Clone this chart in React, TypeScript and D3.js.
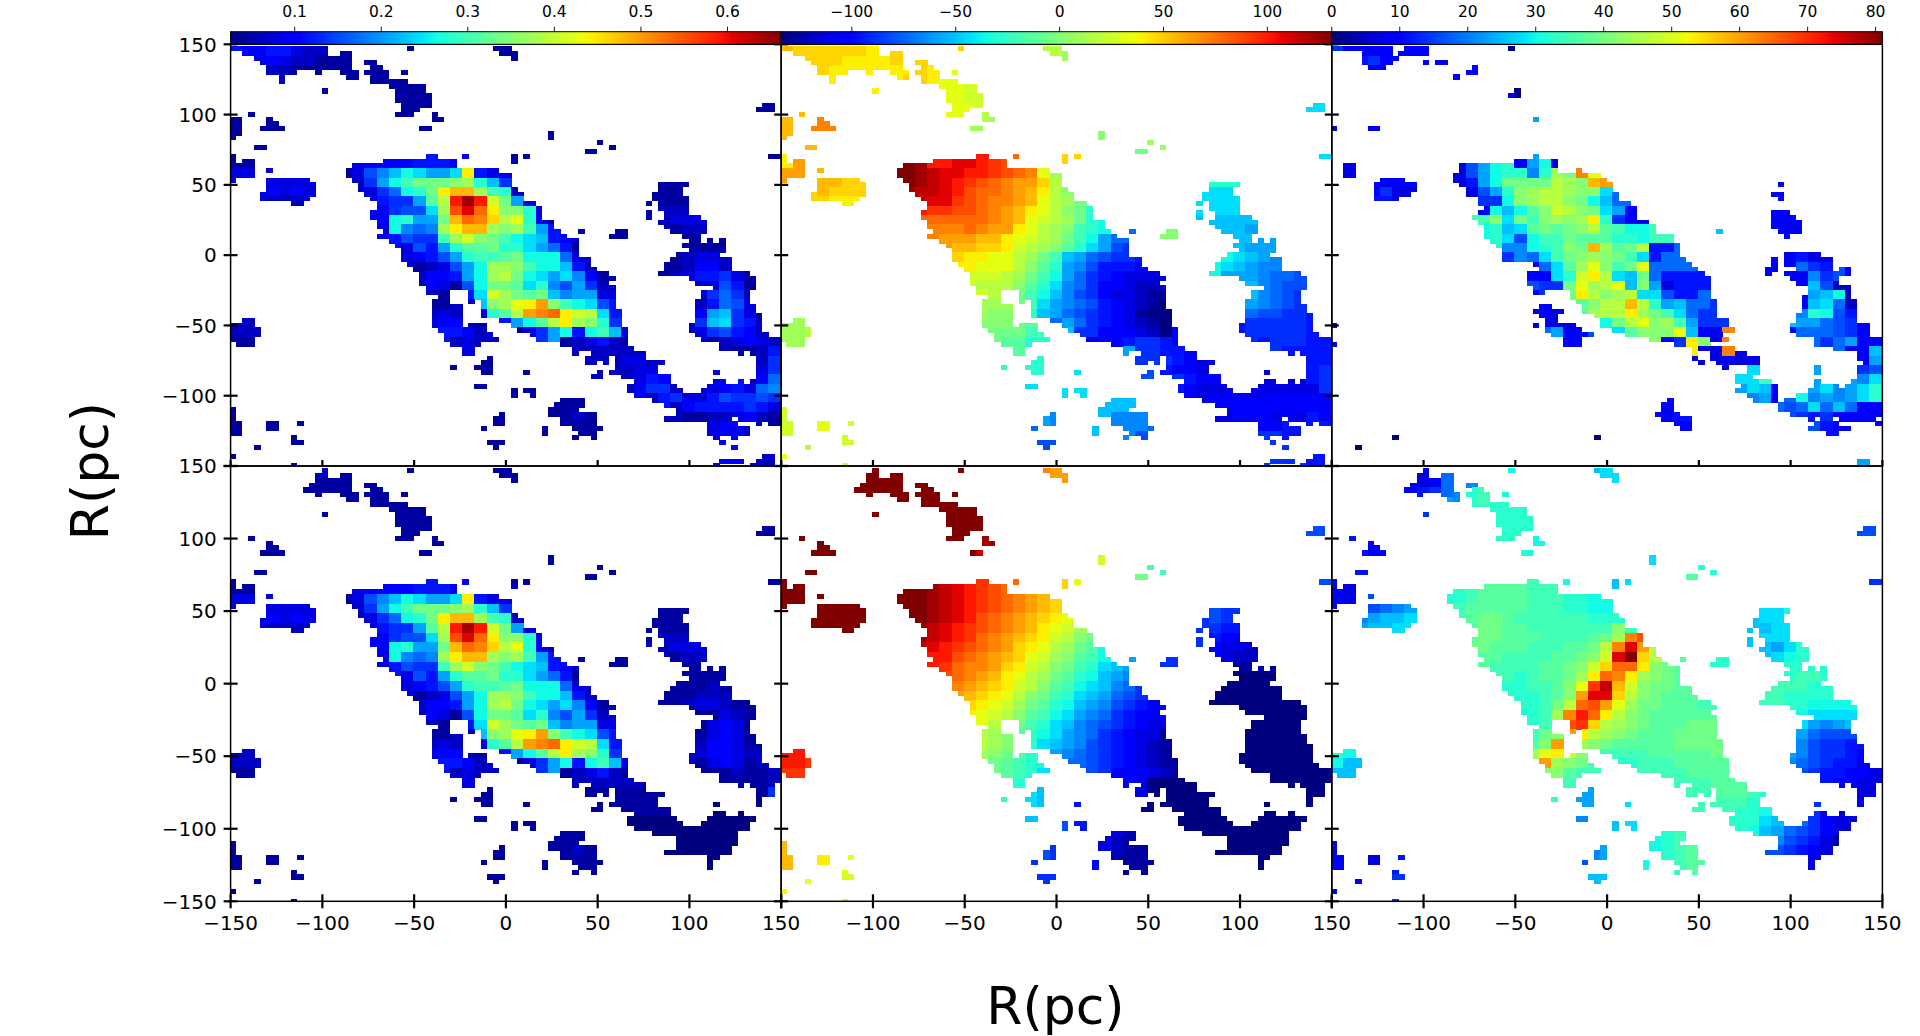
import React from 'react';
import * as d3 from 'd3';

const xTicks = [-150, -100, -50, 0, 50, 100, 150];
const yTicksTop = [150, 100, 50, 0, -50, -100, -150];
const intensityTicks = [0.1, 0.2, 0.3, 0.4, 0.5, 0.6];
const velocityTicks = [-100, -50, 0, 50, 100];
const dispersionTicks = [0, 10, 20, 30, 40, 50, 60, 70, 80];
const intensityDomain = [0.026, 0.662];
const velocityDomain = [-134, 131];
const dispersionDomain = [0, 81];

// Occupied cells per image row: column ranges
const maskObserved = [
"0-15 29 43-45","2-15 18-19 44-46","4-19 46","5-19 22-23","6-19 23-24","6-10 14 18-20 22-25 28","8 19-20 23-25","8 23-28","26-31","15 27-31",
"27-32","27-32","28-32 87-88","28-30 86-88","3 27-29 33","0-1 6 33-34","0-1 6-7","0-1 5-8 31-32","0-1 52","0 52",
"60","4-5 62","58-59","0 32-33 38 46 48 88-89","0 2-3 25-36 46","0-3 20-36","0-3 6 19-43","0-3 19-45","0 6-12 20-45","6-13 21-45 70-74",
"6-13 21-46 70-73","5-13 22-47 69-73","5-12 23-47 69-74","10-11 24-49 68 70-74","24-50 70-74","23-50 68 71-74","23-50 68 71-76","24-52 70-77","24-52 71-77","25-53 57 63-64 72-77",
"24-54 62-64 74-76","26-56 75-76 78 80","27-56 74-80","28-56 75 76-80","28-56 73-79","28-58 72-81","29-58 71-81","30-59 71-81","31-61 70-84","31-62 75-85",
"31-61 76-85","32-62 79-85","32-35 39-62 77-84","34-35 39-62 77-84","33-35 39 41-62 76-84","33-37 41-62 76-85","33-37 41-63 76-85","33-37 41-63 76-86","2-3 33-37 44-63 76-86","0-3 33-37 39-41 46-63 75-86",
"0-4 34-41 47 48-64 75-86","0-4 35-42 49-64 76-87","0-3 35-43 50-64 77-89","1-3 36-40 54-64 80-89","38-39 56 57-65 80-89","38-39 56 59-67 83 85-89","42 58-61 63-67 86-89","41-42 58-59 61 63-70 86-89","36 40-42 63-69 86-89","41-42 48 60 62-69 79 86-89",
"59-60 64-71 86-89","66-71 79-80 83 85-89","40-41 65-72 78-89","46 48-49 65-73 77-89","46 49 66-89","54-57 69-89","53-57 71-89","0 52-56 73-89","0 44 52-59 73-89","0 43-44 54-59 71-81 83-89",
"0-1 6-7 11 43-44 54-59 78-82 86 88-89","0-1 6-7 41 51 56-60 78-84","0-1 51 57-59 78-84","10 56 59 79 82","10-11 42-44 80","4 43 82","","0 87-88","80-83 86-88","10 79 85-88"
];
const maskDispersionObserved = [
"0-9 12-15 29","5-9 11-15","5-10","5-9 15 17-18","6-8 23","22-23","20","","","30",
"29-30","","","","","33","","0 6-7","","",
"","","","33","30-36","2-3 21-36","2-3 21-36 40","2-3 20-43","8-11 20-44","7-13 21-45 73",
"7-13 22-45","7-12 22-46 72-73","7-8 9-10 24-46 73","24-48","25-49","24-49 72-74","23-49 72-75","24-51 72-76","25-52 72-76","25-52 63 73-76",
"25-55 74","26-55","27-56","28-56","28-56 74-79","28-57 72 74-81","33-58 72 74-81","34-59 71-72 76-81 83-84","32-60 71 74-82 83-84","32-61 75-82",
"32-61 76-82","33-61 78-84","33-34 39-61 78-84","39-61 77-84","40-62 77-85","34-35 41-62 77-85","33-37 41-62 77-85","34-36 43-62 76-85","35-36 44-64 76-85","0 33 35-39 44-64 75-87",
"35-40 46-65 75-87","36-42 48-63 76-87","38-40 52-64 79-89","0 38-40 56-61 79-89","59-65 82-89","59 62-67 86-89","59 62-69 86-89","60 63-69 87-89","64 68-69 79 86-89","68-69 79 86-89",
"66-68 86-89","66-71 79 85-89","67-72 79-82 84-89","66-72 78-89","68-72 76-89","55 69-72 74-89","54-55 73-89","54-55 73-89","53-56 75-89","54-58 78 80-81 83-88",
"56-58 79-82 89","57-58 78-84","81-82","10 43","","4","","","86-87","86-87"
];
// Cells the lower row's fit leaves out
const lowerCuts: Record<number,string> = {
0:"0-14",1:"2-13",2:"4-13",3:"5-12",4:"6-11",5:"6-13",6:"8",7:"8",15:"0-1",16:"0-1",17:"0-1",18:"0-1",19:"0",
65:"89",66:"89",67:"89",68:"87-89",69:"87-89",70:"86-89",71:"85-89",72:"86-89",73:"85-89",74:"85-89",75:"83-89",76:"71-72 83-89",77:"83-89",78:"82-89",79:"83-89",
80:"80-89",81:"79-89",82:"79-89",83:"79-82",84:"80",85:"82",87:"87-88",88:"80-88",89:"79-88"
};

// Colour readings, per 2x2 block: "blockRow blockCol levels" (0-9a-z = 0..35 along the colour bar)
const intensityObserved = [
"0 0 54455322","0 14 1","0 21 111","1 2 34322111","2 3 2211111","2 11 111","3 11 1111","4 13 111","5 14 111","6 14 11","7 16 1","4 7 1","8 3 111","7 2 1","9 1 11","8 0 11","6 0 11","9 26 1","10 29 11","11 31 1","10 24 1","6 43 11","7 44 1",
"12 0 111","13 0 33","14 3 3333","15 3 4343","16 2 3222","34 18 1","35 20 1","36 20 11","37 23 1","38 26 11","38 27 11","39 27 12","40 28 11","41 21 11","40 21 1","42 21 1","34 24 1","36 23 1","29 0 222","30 0 222","31 0 11","39 0 1","40 0 1","40 3 1","41 5 1","42 5 1",
"14 35 111","15 35 111","16 34 111","17 35 222","18 35 2333","19 36 1221","20 37 111","21 37 1111","20 31 1","19 31 11","19 28 1",
"12 10 344445554","13 9 1379bdcaacn5332",
"14 10 26adfhhhijeb62",
"15 11 368dehnppjfe2","16 12 566agkvyvlha3","17 12 4677cjtwsniie3","18 12 4deaahpsrokme41","19 12 3d989jnppjijfa51","20 13 5766fjlihfdcb542","21 14 375aeggheeca851","22 14 3457aeffghddd83","23 15 1237adjjifddb52","24 15 2445adjkhdcac941","25 15 24317dhhgce97a62","26 16 21.5cljhghb9aa3","27 16 11.2bijmnqifdc7","28 16 232.3egkqrsnlkc5","29 16 3442145adgknjie62","30 17 55422.136ad5dfb31","31 18 23.......123521","32 18 1..........22222","33 29 2.2332","34 32 233","35 33 354","36 32 24662..345389","37 34 25633576676","38 36 245555653","39 37 11223421","40 39 3442",
"22 36 12332","23 35 112442","24 35 12355631","25 38 23751","26 38 26862","27 38 25873","28 38 4ab631","29 37 26bc652","30 38 367542","31 39 123432","32 41 1125","33 43 26","34 43 36","35 42 248"
];
const intensityFitOverrides = [
"33 28 1111111","34 30 111111","35 30 1111111","36 32 000000000000","37 34 00000000000","38 36 00000000","39 35 0000000","40 38 00","32 40 111","33 43 1","34 43 0",
"22 36 11121","23 35 11122","24 35 1123321","25 38 11321","26 38 13431","27 38 13431","28 38 24431","29 37 234432","30 38 13431","31 39 11211","32 41 1112"
];
const velocityObserved = [
"0 0 poooooon","0 14 o","0 21 kkj","1 2 ooonnnno","2 3 onnnnnn","2 11 onmm","3 11 onmm","4 13 mml","5 14 mll","6 14 mm","7 13 m","7 16 kj","8 16 j","7 2 rrr","8 2 rrr","9 3 qq","9 0 pp","6 0 pp","8 0 pp","12 0 nqqr","13 0 qq","11 31 l","10 26 h","9 26 i","11 29 h","10 31 j","11 18 m","11 23 o","11 24 o","6 43 c","7 43 c",
"14 3 ppoo","15 3 pooo","16 2 oonnn","20 28 l","20 31 i","19 31 i","29 0 jjk","30 0 jj","31 0 jj","27 2 c",
"12 12 vvwwvuts","13 9 zzyxwwvvutsrmj","14 10 zyxwvutsrqqoki","15 10 yxxwvtssrqpnki","16 11 xwwutsrrqpmkjh","17 11 vuuttsrqpnmkih","18 11 ssssssrqpmlkjhe","19 12 rrrsrqqnmkjifed","20 12 rqqqppnmlkjhfda88","21 14 ppoonlkjigeca76","22 14 onnmmkjhfba87665","23 14 nnmmmkigea975554","24 15 lllkjhfda86543333","25 15 lkkkigec98644322","26 16 lk.hfdb97643321","27 16 jjj.fca98754321","28 16 jii.eba876543100","29 16 iiihg.8a86543210","30 17 hhhff.b66444320","31 18 ggee...3.456654","32 19 g........a665542","33 18 e.ee........66543","34 20 e...c.....75443","35 20 d...c.....7.65444","36 20 c...c.......5433344444","36 39 33333","37 24 cc.bbc.....4444444444","38 26 bbba......4444444444","39 21 a9....9998.....3444343","40 20 8....b..998.........4555","41 21 7.......7........6.6",
"14 35 eee","15 35 ccd","16 34 cccc","17 35 cccb","18 35 bbbba","19 36 bbaa","20 37 bbaa","21 37 baaa","22 36 dcba98","23 35 dcba998","24 35 daaa9887","25 38 b9877","26 38 b9876","27 37 ca9876","28 38 877665","29 37 5666665","30 38 666665","31 39 566655","32 41 5555","33 43 55","34 43 56","35 43 56",
"38 0 ll","39 0 ll","40 0 ll","40 3 m","41 5 l","42 2 k","44 0 m"
];
const velocityFit = [
"0 14 z","0 21 rqq","1 14 zzz","2 14 zzz","3 11 zzzz","4 13 zzz","5 14 zzz","6 14 zz","7 15 z","7 16 y","8 16 xy","2 7 zzzzz","3 6 zzzz","4 7 z","7 3 zz","8 2 zzz","10 2 z","12 0 zzz","13 0 zz","14 3 zzzz","15 3 zzzz","16 2 zzzz",
"9 26 l","10 26 l","11 29 h","10 31 f","11 18 s","11 23 o","11 24 m","6 43 7","7 43 7","20 28 a","20 31 6","19 32 6","27 2 w","29 0 vvv","30 0 vvu","31 0 uu",
"12 16 uts","13 9 zzzyxwvutsrqpo","14 10 zzyxwvutsrqpon","15 10 zzyxwvtsrqponm","16 11 yxwvutsrqpnmlj","17 11 yxwvusrqponlkih","18 11 xwvutsrqonmkjhg","19 12 vvtsrqpomljigfd","20 13 usrrqonlkihfecba","21 13 tsrqpnmkjhgedba9","22 14 rqponlkigfdcb98","23 14 qponmkihfecba876","24 15 onmljhgedba97654","25 15 nmlkigfdca986544","26 16 mk.hfecb9876543","27 16 kj.gedca9865433","28 16 kji.ecba97654321","29 16 jihgeca987654321","30 17 hgfed.8876543211","31 18 gfec.....4.432100","32 19 e........43210",
"15 35 766","16 34 6655","17 34 6544","18 35 4332","19 36 3222","20 36 11111","21 36 0000","22 35 000000","23 35 000000","24 36 000000","25 38 00000","26 38 00000","27 38 00000","28 38 00000","29 37 000000","30 38 000000","31 39 000000","32 30 000000","32 40 00000","33 30 0000000","33 43 0","34 30 0000000","35 31 000000","36 32 000000000","37 34 000000000","38 36 0000000","39 35 00000","40 39 0",
"33 18 e","34 20 cb","35 20 b","36 23 7","36 24 5","37 27 32","38 26 321","39 27 211","40 27 11","40 25 4","38 21 76","39 21 76","40 20 6","42 21 6","38 0 p","39 0 p","40 0 p","40 3 n","41 5 m","42 5 l","42 2 m","44 0 n"
];
const dispersionObserved = [
"0 0 6444","0 6 44","0 14 0","1 2 5644","1 5 4444","2 3 44","2 7 c","2 8 44","3 11 4","3 7 4","12 15 4ad3","13 1 34","13 10 37adee9ejhrm","14 10 35adhhhhkjipq","14 4 44","15 3 463","16 3 553","15 11 37aeijkkjiic","16 12 66dijkkihdb8","17 12 4dbdgilkihca","18 12 fichfijijne64","19 12 debcghghikgfd","20 13 ec7dffhgggeedf","21 14 99defihpjghk","22 14 698cfhijihfc5","23 16 48cgjmifhm88","24 16 44celnkcbh85","25 16 766hmjkmbia3","26 16 4..hnkijkcc75","27 20 gikkpkeab","28 16 34..gjkknjhfc8","29 17 433.7dhkmijfa6","30 17 8a4..9cgiiimb4","31 18 6........46ni","32 30 33r","33 31 343","34 31 33","35 33 ccf","36 33 acb4","36 39 ac9ace","37 34 9a48d9a9a","38 36 878c8b844","39 39 5644","40 38 675",
"22 37 4533","23 35 4.486574","24 36 4.496","25 39 b72","26 38 4abd2","27 38 4bc8","28 38 9ed75","29 37 baa876","30 37 4888764","31 40 68a44","32 42 44b","33 43 4a","34 43 67","35 43 9c",
"14 36 4","15 36 44","17 36 4","18 36 44","19 37 44","20 37 44","31 0 44","29 0 4","20 31 b","38 27 4","39 27 45","40 28 4","37 27 4","37 28 4","41 5 0","42 21 0","43 21 0","42 2 0","44 43 a4","14 38 4","16 36 4"
];
const dispersionFit = [
"1 7 348","2 6 4568","2 10 9","3 6 568a","3 11 ef","4 12 fe","5 14 ee","6 14 ee","7 15 e","7 13 e","8 16 dd","0 14 d","0 21 bcc","1 21 cc","6 43 7","7 43 6","7 2 544","8 2 544","10 2 5","12 0 43","13 0 43","14 3 789a","15 2 9abbc","16 2 abbc",
"9 26 c","10 26 c","11 29 g","10 31 e","11 19 d","11 23 b","11 24 c","20 28 e","20 31 e","20 32 e","27 2 g","29 0 ed","30 0 db","31 0 bb",
"13 9 eefggggfffeedd","14 10 fgggggfffeedd","15 11 ghhgffffffeeef","16 11 ghhggfffffffi","17 12 hhgggffffghjrt","18 12 hgggfffgghkrwq","19 12 ggffffgghilwzokh","20 13 ffffgghilossnihg","21 14 fefgghjnsrnjihg","22 14 eeffgimuxplihhgg","23 14 eeefgiqwwokihggg","24 15 eefhkstqmjhhgggf","25 15 defjrvsnkihggggg","26 16 efituokjihggghh","27 16 fh.qnkjihggghhh","28 16 giq.jihggggghhhh","29 16 jmnligffffgggggh","30 16 oqjihf.eefffgggggg","31 17 iigf......ffgggg","32 19 f........fffggg","33 29 ff.ggfe","34 30 f.ffee","35 33 eedc","36 33 eecb986433","37 34 dba876432","38 36 976531","39 36 76543","40 39 3",
"15 35 ccd","16 34 bbcc","17 35 ccc","18 35 bac","19 36 cde","20 37 eeee","21 37 effe","22 35 ffffee","23 35 ffeeeed","24 38 eddddc","25 38 dcccccc","26 38 ca9ab","27 37 ca87778","28 37 b976655","29 37 a976654","30 37 98765543","31 38 76554433","32 41 4433","33 43 33",
"34 18 e","33 20 aa","34 20 aa","35 24 c","36 20 9","37 23 b","37 24 cb","38 27 ff","38 26 def","39 27 efg","40 27 efg","40 25 d","38 21 9","39 21 9a","39 22 a","40 20 7","42 21 bb","38 0 4","39 0 4","40 0 4","40 3 3","41 5 5","42 5 6","42 2 4","44 0 4"
];

const jetR = d3.scaleLinear<number>().domain([0, 0.35, 0.66, 0.89, 1]).range([0, 0, 1, 1, 0.5]).clamp(true);
const jetG = d3.scaleLinear<number>().domain([0, 0.125, 0.375, 0.64, 0.91, 1]).range([0, 0, 1, 1, 0, 0]).clamp(true);
const jetB = d3.scaleLinear<number>().domain([0, 0.11, 0.34, 0.65, 1]).range([0.5, 1, 1, 0, 0]).clamp(true);
const jet = (t: number) => `rgb(${Math.round(jetR(t) * 255)},${Math.round(jetG(t) * 255)},${Math.round(jetB(t) * 255)})`;

const ranges = (s: string): [number, number][] =>
  s.trim() === '' ? [] : s.trim().split(/\s+/).map(r => {
    const p = r.split('-').map(Number);
    return [p[0], p.length > 1 ? p[1] : p[0]] as [number, number];
  });

function cellsOf(rows: string[], cuts?: Record<number, string>) {
  const out: [number, number][] = [];
  rows.forEach((row, k) => {
    const cut = cuts && cuts[k] ? ranges(cuts[k]) : [];
    ranges(row).forEach(([a, b]) => {
      for (let j = a; j <= b; j++) if (!cut.some(([c, d]) => j >= c && j <= d)) out.push([k, j]);
    });
  });
  return out;
}

function readings(lines: string[]) {
  const m = new Map<string, number>();
  lines.forEach(line => {
    const [b, c, ...rest] = line.split(' ');
    [...rest.join('')].forEach((ch, i) => {
      if (ch !== '.') m.set(`${+b},${+c + i}`, parseInt(ch, 36));
    });
  });
  return [...m.entries()].map(([key, l]) => {
    const [b, c] = key.split(',').map(Number);
    return { b, c, l };
  });
}

const PW = 550.6;
const lefts = [230.6, 781.2, 1331.8];
const rowTop = [44.3, 466];
const rowBottom = [466, 901.3];
const CELL = 10 / 3;
const X_SHIFT = 0.14;
const Y_SHIFT = 0.43;

interface PanelProps { col: number; row: number; rows: string[]; cuts?: Record<number, string>; lines: string[]; domain: number[]; }

function Panel({ col, row, rows, cuts, lines, domain }: PanelProps) {
  const x = d3.scaleLinear().domain([-150, 150]).range([lefts[col], lefts[col] + PW]);
  const y = d3.scaleLinear().domain([-150, 150]).range([rowBottom[row], rowTop[row]]);
  const samples = readings(lines);
  const del = d3.Delaunay.from(samples, s => s.c, s => s.b * (4.7 / 6.1));
  const value = d3.scaleLinear().domain([0, 35]).range(domain);
  const t = d3.scaleLinear().domain(domain).range([0, 1]);
  const id = `clip${col}${row}`;
  const cw = x(CELL) - x(0);
  const ch = y(0) - y(CELL);
  return (
    <g>
      <clipPath id={id}>
        <rect x={lefts[col]} y={rowTop[row]} width={PW} height={rowBottom[row] - rowTop[row]} />
      </clipPath>
      <g clipPath={`url(#${id})`} shapeRendering="crispEdges">
        {cellsOf(rows, cuts).map(([k, j]) => {
          const s = samples[del.find(Math.floor(j / 2), Math.floor(k / 2) * (4.7 / 6.1))];
          return (
            <rect key={`${k}-${j}`} x={x(-150 + (j - X_SHIFT) * CELL)} y={y(150 - (k + Y_SHIFT) * CELL)}
              width={cw + 0.4} height={ch + 0.4} fill={jet(t(value(s.l)))} />
          );
        })}
      </g>
    </g>
  );
}

function Colorbar({ col, domain, ticks }: { col: number; domain: number[]; ticks: number[] }) {
  const x = d3.scaleLinear().domain(domain).range([lefts[col], lefts[col] + PW]);
  const steps = d3.range(0, 256);
  const gid = `cb${col}`;
  return (
    <g>
      <defs>
        <linearGradient id={gid}>
          {steps.map(i => <stop key={i} offset={i / 255} stopColor={jet(i / 255)} />)}
        </linearGradient>
      </defs>
      <rect x={lefts[col]} y={31.7} width={PW} height={12.6} fill={`url(#${gid})`} stroke="#000" strokeWidth={1} />
      {ticks.map(v => (
        <g key={v}>
          <line x1={x(v)} x2={x(v)} y1={26.7} y2={31.7} stroke="#000" strokeWidth={0.9} />
          <text x={x(v)} y={16.8} textAnchor="middle" fontSize={15.5} fill="#000">{String(v).replace('-', '\u2212')}</text>
        </g>
      ))}
    </g>
  );
}

function Axes({ col, row }: { col: number; row: number }) {
  const left = lefts[col];
  const x = d3.scaleLinear().domain([-150, 150]).range([left, left + PW]);
  const y = d3.scaleLinear().domain([-150, 150]).range([rowBottom[row], rowTop[row]]);
  const bot = rowBottom[row];
  return (
    <g>
      <rect x={left} y={rowTop[row]} width={PW} height={bot - rowTop[row]} fill="none" stroke="#000" strokeWidth={1.5} />
      {yTicksTop.map(v => (
        <g key={v}>
          <line x1={left - 7} x2={left + 7} y1={y(v)} y2={y(v)} stroke="#000" strokeWidth={2.2} />
          {col === 0 && !(row === 0 && v === -150) && (
            <text x={216.7} y={y(v)} dy="0.36em" textAnchor="end" fontSize={20}>{String(v).replace('-', '\u2212')}</text>
          )}
        </g>
      ))}
      {xTicks.map(v => (
        <g key={v}>
          <line x1={x(v)} x2={x(v)} y1={row === 1 ? bot - 7 : bot - 6} y2={row === 1 ? bot + 7 : bot} stroke="#000" strokeWidth={2.2} />
          {row === 1 && !(col > 0 && v === -150) && (
            <text x={x(v)} y={929.5} textAnchor="middle" fontSize={20}>{String(v).replace('-', '\u2212')}</text>
          )}
        </g>
      ))}
    </g>
  );
}

export default function App() {
  const panels: PanelProps[] = [
    { col: 0, row: 0, rows: maskObserved, lines: intensityObserved, domain: intensityDomain },
    { col: 1, row: 0, rows: maskObserved, lines: velocityObserved, domain: velocityDomain },
    { col: 2, row: 0, rows: maskDispersionObserved, lines: dispersionObserved, domain: dispersionDomain },
    { col: 0, row: 1, rows: maskObserved, cuts: lowerCuts, lines: [...intensityObserved, ...intensityFitOverrides], domain: intensityDomain },
    { col: 1, row: 1, rows: maskObserved, cuts: lowerCuts, lines: velocityFit, domain: velocityDomain },
    { col: 2, row: 1, rows: maskObserved, cuts: lowerCuts, lines: dispersionFit, domain: dispersionDomain },
  ];
  return (
    <svg width={1920} height={1036} viewBox="0 0 1920 1036"
      style={{ position: 'fixed', left: 0, top: 0, background: '#fff', fontFamily: '"DejaVu Sans", sans-serif' }}>
      {panels.map(p => <Panel key={`${p.col}${p.row}`} {...p} />)}
      {panels.map(p => <Axes key={`a${p.col}${p.row}`} col={p.col} row={p.row} />)}
      <Colorbar col={0} domain={intensityDomain} ticks={intensityTicks} />
      <Colorbar col={1} domain={velocityDomain} ticks={velocityTicks} />
      <Colorbar col={2} domain={dispersionDomain} ticks={dispersionTicks} />
      <text x={1055.5} y={1005} dy="0.36em" textAnchor="middle" fontSize={52}>R(pc)</text>
      <text transform="translate(89,471) rotate(-90)" dy="0.36em" textAnchor="middle" fontSize={52}>R(pc)</text>
    </svg>
  );
}
